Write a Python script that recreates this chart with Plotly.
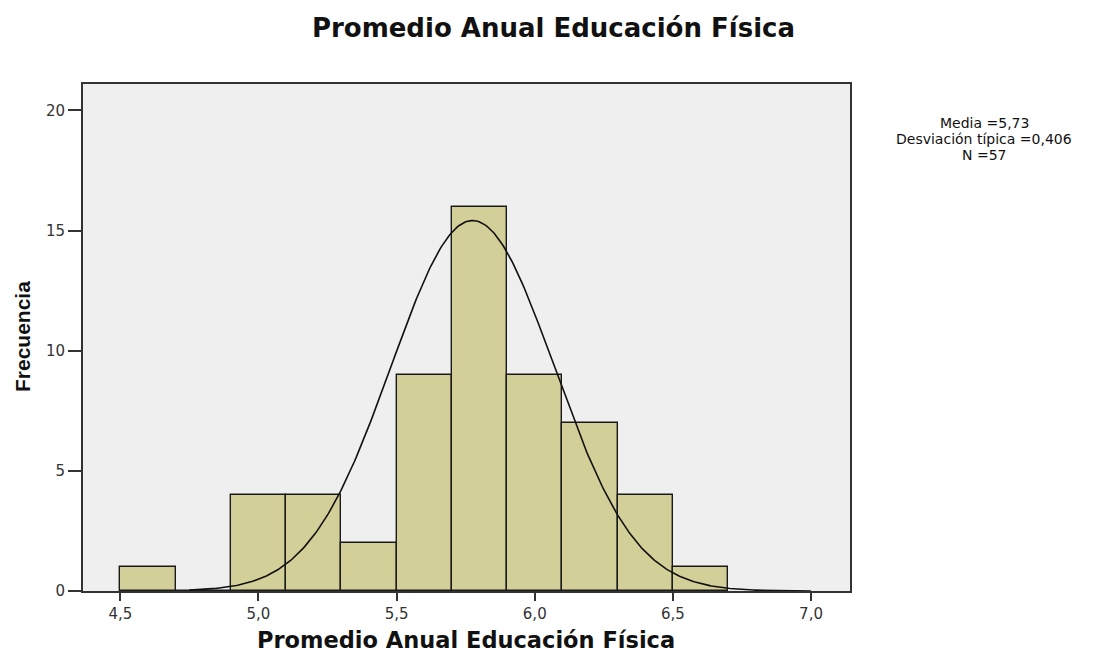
import numpy as np
import plotly.graph_objects as go

# ---- data ----
bin_starts = [4.5, 4.7, 4.9, 5.1, 5.3, 5.5, 5.7, 5.9, 6.1, 6.3, 6.5]
counts = [1, 0, 4, 4, 2, 9, 16, 9, 7, 4, 1]
bin_width = 0.2
x_ticks = [4.5, 5.0, 5.5, 6.0, 6.5, 7.0]
x_tick_labels = ["4,5", "5,0", "5,5", "6,0", "6,5", "7,0"]
y_ticks = [0, 5, 10, 15, 20]
# normal curve as drawn
curve_mean = 5.775
curve_sd = 0.295
n_total = sum(counts)
stats_lines = ["Media =5,73", "Desviación típica =0,406", "N =57"]
title_text = "Promedio Anual Educación Física"
x_title = "Promedio Anual Educación Física"
y_title = "Frecuencia"

W, H = 1090, 648
L, R, T, B = 75, 248, 76, 65
PW, PH = W - L - R, H - T - B


def px(xp):  # figure pixel -> paper x
    return (xp - L) / PW


def py(yp):  # figure pixel -> paper y
    return (H - B - yp) / PH


bar_centers = [b + bin_width / 2 for b in bin_starts]
xc = np.linspace(4.75, 7.0, 400)
yc = n_total * bin_width / (curve_sd * np.sqrt(2 * np.pi)) * np.exp(-0.5 * ((xc - curve_mean) / curve_sd) ** 2)

fig = go.Figure()
fig.add_trace(go.Bar(
    x=bar_centers, y=counts, width=bin_width,
    marker=dict(color="#D3CF98", line=dict(color="#1a1a1a", width=1.4)),
    hoverinfo="x+y", showlegend=False,
))
fig.add_trace(go.Scatter(
    x=xc, y=yc, mode="lines",
    line=dict(color="#111111", width=1.6), showlegend=False, hoverinfo="skip",
))

tick_font = dict(size=15, color="#333333", family="DejaVu Sans, sans-serif")

annotations = [
    dict(text="<b>" + x_title + "</b>", xref="paper", yref="paper",
         x=px(458), y=py(632), xanchor="center", yanchor="middle", showarrow=False,
         font=dict(size=22.5, color="#111111", family="DejaVu Sans, sans-serif")),
    dict(text="<b>" + y_title + "</b>", xref="paper", yref="paper", textangle=-90,
         x=px(14), y=py(329), xanchor="center", yanchor="middle", showarrow=False,
         font=dict(size=21, color="#111111", family="Liberation Sans, Arial, sans-serif")),
]
for i, line in enumerate(stats_lines):
    annotations.append(dict(
        text=line, xref="paper", yref="paper",
        x=px(976), y=py(115 + 16 * i), xanchor="center", yanchor="middle",
        showarrow=False, font=dict(size=14, color="#111111", family="DejaVu Sans, sans-serif"),
    ))

fig.update_layout(
    width=W, height=H,
    paper_bgcolor="white", plot_bgcolor="#EFEFEF",
    margin=dict(l=L, r=R, t=T, b=B),
    bargap=0,
    font=dict(family="DejaVu Sans, sans-serif", color="#222222"),
    title=dict(text="<b>" + title_text + "</b>",
               x=545.5 / W, xanchor="center", y=1 - 20 / H, yanchor="middle",
               font=dict(size=26, color="#111111", family="DejaVu Sans, sans-serif")),
    xaxis=dict(
        range=[4.365, 7.141], tickvals=x_ticks, ticktext=x_tick_labels,
        ticks="outside", ticklen=8, tickwidth=2, tickcolor="#333333",
        showline=True, linecolor="#333333", linewidth=2, mirror=True,
        showgrid=False, zeroline=False, tickfont=tick_font,
    ),
    yaxis=dict(
        range=[0, 21.1], tickvals=y_ticks,
        ticks="outside", ticklen=13, tickwidth=2, tickcolor="#333333",
        showline=True, linecolor="#333333", linewidth=2, mirror=True,
        showgrid=False, zeroline=False, tickfont=tick_font,
    ),
    annotations=annotations,
)

fig.write_html("out.html")
